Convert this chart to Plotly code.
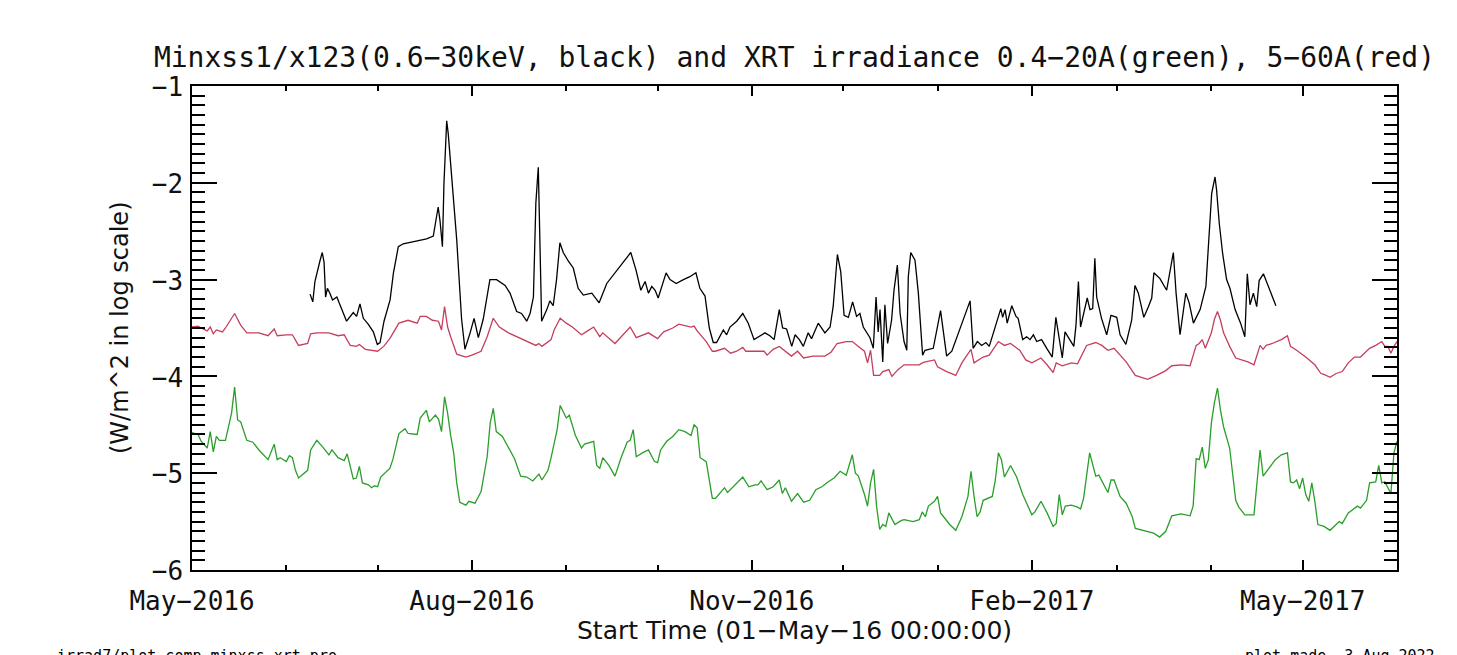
import pandas as pd
import plotly.graph_objects as go

START = "2016-05-01"

# ---- data: day offsets from 01-May-2016 and log10 irradiance (W/m^2) ----
green_days = [0, 2, 3, 5, 6, 7, 8, 9, 11, 12, 13, 14, 15, 16, 18, 20, 22, 25, 27, 28, 29, 31, 32, 33, 34, 35, 38, 39, 41, 43, 45, 46, 48, 50, 51, 52, 53, 54, 55, 56, 58, 59, 60, 61, 62, 65, 66, 68, 70, 71, 74, 75, 77, 78, 80, 81, 82, 83, 84, 85, 86, 87, 88, 90, 91, 93, 95, 97, 98, 99, 100, 102, 104, 106, 108, 110, 112, 114, 115, 117, 118, 120, 121, 123, 124, 126, 128, 129, 132, 133, 134, 135, 137, 139, 141, 143, 144, 145, 146, 148, 150, 152, 153, 154, 156, 158, 160, 162, 164, 165, 166, 167, 169, 170, 171, 172, 175, 176, 178, 181, 183, 185, 186, 187, 189, 191, 193, 194, 195, 197, 199, 201, 203, 205, 207, 209, 211, 213, 215, 217, 218, 219, 221, 222, 223, 224, 225, 226, 227, 228, 229, 231, 233, 234, 237, 239, 240, 241, 242, 244, 245, 246, 247, 249, 251, 253, 255, 256, 257, 258, 259, 260, 263, 264, 265, 266, 267, 269, 271, 273, 276, 277, 279, 281, 283, 284, 285, 286, 287, 289, 291, 292, 293, 294, 295, 297, 298, 301, 302, 303, 305, 307, 309, 310, 314, 316, 318, 320, 322, 325, 328, 329, 330, 331, 332, 333, 334, 335, 336, 337, 338, 339, 341, 343, 344, 346, 349, 350, 351, 352, 354, 356, 358, 360, 361, 362, 363, 364, 365, 366, 367, 368, 369, 370, 372, 374, 376, 377, 378, 380, 383, 384, 386, 387, 389, 390, 391, 392, 394, 395, 396]
green_vals = [-4.58, -4.60, -4.67, -4.74, -4.57, -4.78, -4.62, -4.66, -4.66, -4.52, -4.38, -4.11, -4.45, -4.47, -4.66, -4.68, -4.76, -4.86, -4.70, -4.86, -4.84, -4.88, -4.82, -4.84, -4.97, -5.05, -4.97, -4.76, -4.66, -4.73, -4.81, -4.76, -4.84, -4.87, -4.80, -4.93, -5.06, -5.05, -4.93, -5.10, -5.12, -5.15, -5.13, -5.14, -5.04, -4.95, -4.86, -4.59, -4.54, -4.59, -4.60, -4.43, -4.35, -4.47, -4.40, -4.44, -4.57, -4.21, -4.38, -4.61, -4.79, -5.10, -5.30, -5.33, -5.29, -5.31, -5.19, -4.83, -4.48, -4.33, -4.57, -4.62, -4.73, -4.85, -5.03, -5.04, -5.08, -5.01, -5.07, -4.97, -4.84, -4.55, -4.30, -4.43, -4.40, -4.61, -4.74, -4.70, -4.67, -4.92, -4.95, -4.84, -4.92, -5.03, -4.84, -4.68, -4.66, -4.55, -4.83, -4.79, -4.76, -4.88, -4.89, -4.76, -4.67, -4.62, -4.55, -4.57, -4.61, -4.50, -4.53, -4.84, -4.88, -5.07, -5.26, -5.26, -5.15, -5.20, -5.14, -5.04, -5.14, -5.12, -5.12, -5.08, -5.17, -5.14, -5.07, -5.21, -5.15, -5.29, -5.21, -5.30, -5.28, -5.17, -5.14, -5.09, -5.05, -4.98, -5.02, -4.81, -5.00, -5.03, -5.22, -5.34, -5.10, -4.96, -5.35, -5.58, -5.53, -5.55, -5.41, -5.53, -5.49, -5.48, -5.50, -5.48, -5.40, -5.45, -5.34, -5.29, -5.24, -5.41, -5.45, -5.53, -5.59, -5.45, -5.24, -4.98, -5.24, -5.45, -5.40, -5.28, -5.24, -5.07, -4.79, -4.86, -5.04, -4.92, -5.04, -5.22, -5.43, -5.40, -5.29, -5.41, -5.55, -5.52, -5.22, -5.43, -5.34, -5.33, -5.35, -5.37, -5.26, -5.00, -4.79, -5.03, -5.02, -5.20, -5.07, -5.07, -5.24, -5.31, -5.45, -5.57, -5.60, -5.62, -5.66, -5.60, -5.44, -5.42, -5.44, -5.34, -4.85, -4.86, -4.73, -4.95, -4.86, -4.48, -4.27, -4.12, -4.35, -4.52, -4.74, -5.28, -5.35, -5.43, -5.43, -5.07, -4.76, -5.03, -4.95, -4.86, -4.81, -4.79, -5.09, -5.10, -5.07, -5.16, -5.05, -5.22, -5.29, -5.10, -5.29, -5.53, -5.55, -5.59, -5.53, -5.50, -5.52, -5.41, -5.34, -5.36, -5.28, -5.10, -5.09, -4.92, -5.10, -5.09, -5.21, -4.79, -4.67]

red_days = [0, 2, 3, 5, 6, 7, 8, 10, 11, 14, 16, 18, 22, 25, 27, 28, 31, 33, 35, 38, 39, 41, 45, 48, 50, 52, 54, 55, 57, 59, 61, 63, 65, 68, 71, 74, 75, 77, 79, 81, 82, 83, 84, 85, 87, 90, 92, 95, 97, 99, 101, 104, 108, 111, 113, 114, 115, 118, 119, 121, 123, 125, 128, 130, 132, 134, 135, 139, 141, 144, 146, 150, 153, 155, 158, 160, 164, 165, 166, 169, 171, 172, 175, 177, 179, 181, 182, 188, 189, 191, 193, 195, 197, 199, 201, 204, 208, 210, 212, 215, 217, 219, 221, 222, 223, 224, 226, 227, 229, 230, 232, 234, 236, 239, 240, 241, 244, 245, 248, 251, 253, 256, 257, 260, 262, 264, 265, 267, 269, 272, 274, 276, 279, 281, 283, 284, 286, 289, 291, 294, 297, 299, 301, 303, 305, 307, 310, 314, 317, 320, 322, 325, 328, 330, 331, 332, 333, 335, 336, 337, 338, 339, 341, 343, 347, 349, 351, 352, 353, 355, 358, 360, 361, 363, 366, 368, 369, 371, 372, 374, 376, 378, 380, 382, 384, 387, 389, 391, 392, 393, 394, 395, 396]
red_vals = [-3.49, -3.48, -3.50, -3.53, -3.49, -3.56, -3.52, -3.54, -3.50, -3.35, -3.47, -3.55, -3.55, -3.58, -3.51, -3.58, -3.57, -3.57, -3.68, -3.66, -3.56, -3.55, -3.55, -3.58, -3.57, -3.68, -3.69, -3.67, -3.72, -3.73, -3.74, -3.69, -3.61, -3.45, -3.42, -3.45, -3.38, -3.38, -3.42, -3.43, -3.52, -3.28, -3.49, -3.59, -3.77, -3.80, -3.78, -3.74, -3.59, -3.40, -3.49, -3.55, -3.61, -3.65, -3.68, -3.66, -3.69, -3.62, -3.52, -3.40, -3.45, -3.49, -3.57, -3.53, -3.49, -3.59, -3.55, -3.66, -3.59, -3.49, -3.60, -3.55, -3.61, -3.54, -3.50, -3.46, -3.49, -3.48, -3.53, -3.64, -3.74, -3.74, -3.71, -3.76, -3.74, -3.70, -3.74, -3.74, -3.78, -3.72, -3.69, -3.74, -3.79, -3.74, -3.81, -3.79, -3.79, -3.75, -3.66, -3.64, -3.64, -3.69, -3.74, -3.86, -3.73, -3.99, -3.99, -3.95, -3.93, -4.00, -3.93, -3.88, -3.88, -3.88, -3.86, -3.85, -3.83, -3.90, -3.95, -3.99, -3.86, -3.72, -3.86, -3.80, -3.78, -3.69, -3.64, -3.68, -3.66, -3.73, -3.83, -3.86, -3.81, -3.88, -3.96, -3.86, -3.89, -3.86, -3.87, -3.68, -3.65, -3.68, -3.73, -3.71, -3.78, -3.85, -3.99, -4.03, -3.99, -3.94, -3.89, -3.88, -3.89, -3.68, -3.66, -3.62, -3.71, -3.55, -3.41, -3.33, -3.42, -3.55, -3.69, -3.81, -3.85, -3.88, -3.68, -3.72, -3.68, -3.66, -3.62, -3.58, -3.69, -3.73, -3.80, -3.85, -3.88, -3.97, -3.98, -4.01, -3.97, -3.95, -3.86, -3.80, -3.80, -3.71, -3.68, -3.64, -3.69, -3.69, -3.76, -3.69, -3.64]

black_days = [38.8, 39.7, 40.4, 41.0, 42.1, 42.8, 43.4, 43.9, 44.5, 45.3, 46.2, 47.6, 49.2, 50.8, 53.0, 54.1, 55.2, 56.3, 57.9, 59.6, 60.9, 61.8, 63.1, 65.1, 66.2, 67.8, 69.4, 72.7, 77.1, 79.3, 80.9, 81.5, 82.3, 82.8, 83.7, 84.2, 85.3, 87.0, 88.6, 89.7, 91.4, 92.7, 94.1, 95.7, 97.9, 100.1, 102.9, 104.5, 106.7, 108.3, 110.0, 111.1, 112.2, 113.0, 113.8, 114.1, 114.9, 116.6, 117.6, 118.7, 119.8, 120.9, 122.0, 123.7, 125.3, 126.9, 128.6, 131.4, 133.0, 133.8, 136.3, 140.1, 144.2, 145.9, 147.5, 148.9, 150.0, 151.1, 152.2, 153.2, 155.8, 157.1, 159.1, 161.5, 163.6, 165.6, 166.9, 168.6, 170.0, 171.3, 172.4, 174.6, 175.7, 176.8, 179.0, 181.0, 182.8, 184.7, 186.7, 188.3, 189.9, 191.3, 193.0, 194.1, 195.4, 197.1, 198.2, 199.6, 200.9, 202.5, 203.6, 205.8, 208.0, 209.7, 210.7, 212.1, 213.2, 214.3, 215.7, 217.1, 218.4, 219.5, 220.6, 222.8, 223.9, 224.8, 225.5, 226.1, 227.0, 227.7, 228.6, 229.9, 230.7, 231.8, 232.7, 234.0, 234.9, 235.4, 236.2, 237.6, 238.7, 240.1, 240.9, 243.6, 246.0, 246.9, 248.0, 249.7, 255.7, 256.7, 258.1, 259.5, 260.9, 262.0, 263.6, 265.8, 266.4, 267.2, 267.9, 269.4, 270.8, 271.5, 273.0, 274.3, 275.4, 276.5, 277.6, 279.2, 280.9, 282.7, 283.9, 284.7, 285.2, 286.0, 286.9, 288.5, 289.8, 290.5, 291.3, 292.0, 293.5, 294.2, 295.1, 296.0, 296.7, 297.3, 298.9, 300.6, 302.0, 303.9, 305.0, 306.9, 308.8, 309.9, 311.0, 312.8, 314.3, 315.4, 316.1, 318.1, 320.3, 321.4, 322.5, 323.4, 324.7, 326.6, 327.7, 329.1, 331.3, 333.2, 334.3, 335.1, 336.2, 336.7, 337.6, 338.7, 340.0, 341.1, 342.8, 344.6, 346.0, 346.8, 347.7, 348.8, 349.9, 350.7, 352.1, 354.3, 356.2]
black_vals = [-3.15, -3.23, -3.02, -2.93, -2.80, -2.72, -2.82, -3.18, -3.09, -3.14, -3.21, -3.18, -3.31, -3.43, -3.34, -3.38, -3.25, -3.40, -3.46, -3.54, -3.67, -3.65, -3.43, -3.21, -2.93, -2.66, -2.63, -2.61, -2.58, -2.55, -2.25, -2.39, -2.66, -2.01, -1.36, -1.49, -1.90, -2.59, -3.41, -3.72, -3.55, -3.40, -3.60, -3.41, -3.00, -3.00, -3.06, -3.14, -3.33, -3.35, -3.43, -3.35, -3.18, -2.21, -1.84, -2.25, -3.43, -3.31, -3.22, -3.27, -3.00, -2.62, -2.72, -2.81, -2.88, -3.09, -3.16, -3.14, -3.21, -3.24, -3.04, -2.88, -2.72, -2.90, -3.11, -3.02, -3.14, -3.07, -3.11, -3.19, -2.93, -3.00, -3.04, -3.00, -2.97, -2.93, -3.09, -3.17, -3.50, -3.65, -3.65, -3.52, -3.57, -3.49, -3.43, -3.35, -3.45, -3.62, -3.58, -3.55, -3.58, -3.62, -3.31, -3.50, -3.51, -3.69, -3.57, -3.62, -3.69, -3.55, -3.61, -3.45, -3.55, -3.49, -3.28, -2.74, -2.92, -3.37, -3.39, -3.23, -3.38, -3.35, -3.49, -3.60, -3.71, -3.18, -3.54, -3.31, -3.85, -3.26, -3.66, -3.42, -3.11, -2.85, -3.35, -3.64, -3.73, -2.97, -2.72, -2.80, -3.14, -3.78, -3.73, -3.71, -3.32, -3.52, -3.79, -3.74, -3.22, -3.71, -3.64, -3.68, -3.65, -3.69, -3.52, -3.30, -3.39, -3.31, -3.45, -3.27, -3.38, -3.40, -3.62, -3.59, -3.62, -3.57, -3.64, -3.62, -3.71, -3.80, -3.39, -3.55, -3.69, -3.81, -3.54, -3.62, -3.69, -3.47, -3.02, -3.49, -3.28, -3.19, -3.31, -3.30, -2.78, -3.18, -3.40, -3.57, -3.37, -3.39, -3.57, -3.67, -3.42, -3.06, -3.14, -3.39, -3.28, -3.19, -2.93, -2.99, -3.11, -2.93, -2.72, -3.14, -3.57, -3.14, -3.24, -3.45, -3.31, -3.07, -2.45, -2.11, -1.94, -2.07, -2.42, -2.73, -3.00, -3.09, -3.31, -3.45, -3.59, -2.94, -3.26, -3.14, -3.28, -3.01, -2.94, -3.11, -3.27]

x_tick_dates = ["2016-05-01", "2016-08-01", "2016-11-01", "2017-02-01", "2017-05-01"]
x_tick_labels = ["May\u22122016", "Aug\u22122016", "Nov\u22122016", "Feb\u22122017", "May\u22122017"]
y_tick_vals = [-6, -5, -4, -3, -2, -1]
y_tick_labels = ["\u22126", "\u22125", "\u22124", "\u22123", "\u22122", "\u22121"]

TITLE = ("Minxss1/x123(0.6\u221230keV, black) and XRT irradiance "
         "0.4\u221220A(green), 5\u221260A(red)")
X_TITLE = "Start Time (01\u2212May\u221216 00:00:00)"
Y_TITLE = "(W/m^2 in log scale)"
LEFT_NOTE = "irrad7/plot_comp_minxss_xrt.pro"
RIGHT_NOTE = "plot made  3-Aug-2022"


def to_dates(days):
    return pd.Timestamp(START) + pd.to_timedelta(days, unit="D")


MONO = "DejaVu Sans Mono"
SANS = "DejaVu Sans"

# page is drawn with an 8px body margin, so the figure geometry is offset by 8px
W, H = 1457, 655
L, R, T, B = 184, 68, 78, 93
PW = W - L - R      # plot width
PH = H - T - B      # plot height
X0, X1, Y1 = L, W - R, H - B

fig = go.Figure()
fig.add_trace(go.Scatter(x=to_dates(green_days), y=green_vals, mode="lines",
                         line=dict(color="#2a9e2a", width=1.3), showlegend=False))
fig.add_trace(go.Scatter(x=to_dates(red_days), y=red_vals, mode="lines",
                         line=dict(color="#c63e5c", width=1.3), showlegend=False))
fig.add_trace(go.Scatter(x=to_dates(black_days), y=black_vals, mode="lines",
                         line=dict(color="#000000", width=1.3), showlegend=False))

fig.update_layout(
    width=W, height=H,
    margin=dict(l=L, r=R, t=T, b=B, autoexpand=False),
    paper_bgcolor="white", plot_bgcolor="white",
    title=dict(text=TITLE, x=0.5, xref="paper", y=1 - 49 / H, yref="container",
               xanchor="center", yanchor="middle",
               font=dict(family=MONO, size=28, color="#111111")),
    font=dict(family=MONO, color="black"),
)

fig.update_xaxes(
    type="date", range=["2016-05-01", "2017-06-01"],
    tickmode="array", tickvals=x_tick_dates, ticktext=x_tick_labels,
    ticks="inside", ticklen=10, tickwidth=1.5, tickcolor="black",
    showline=True, linecolor="black", linewidth=1.5, mirror="ticks",
    showgrid=False, zeroline=False,
    tickfont=dict(family=MONO, size=26, color="#111111"),
    ticklabelstandoff=7,
    minor=dict(dtick="M1", tick0="2016-05-01", ticks="inside", ticklen=5,
               tickwidth=1.5, tickcolor="black", showgrid=False),
)
fig.update_yaxes(
    range=[-6, -1],
    tickmode="array", tickvals=y_tick_vals, ticktext=y_tick_labels,
    ticks="inside", ticklen=25, tickwidth=1.5, tickcolor="black",
    showline=True, linecolor="black", linewidth=1.5, mirror="ticks",
    showgrid=False, zeroline=False,
    tickfont=dict(family=MONO, size=26, color="#111111"),
    ticklabelstandoff=2, ticklabelshift=1,
    minor=dict(dtick=0.1, tick0=-6, ticks="inside", ticklen=13,
               tickwidth=1.5, tickcolor="black", showgrid=False),
)

fig.add_annotation(text=X_TITLE, xref="paper", yref="paper", x=0.5,
                   y=-(622 - Y1) / PH, xanchor="center", yanchor="middle",
                   showarrow=False, font=dict(family=SANS, size=25, color="#111111"))
fig.add_annotation(text=Y_TITLE, xref="paper", yref="paper", x=-(X0 - 112) / PW,
                   y=0.5, xanchor="center", yanchor="middle", textangle=-90,
                   showarrow=False, font=dict(family=SANS, size=24, color="#111111"))
fig.add_annotation(text=LEFT_NOTE, xref="paper", yref="paper", x=-(X0 - 47) / PW,
                   y=-(637 - Y1) / PH, xanchor="left", yanchor="top",
                   showarrow=False, font=dict(family=MONO, size=15, color="black"))
fig.add_annotation(text=RIGHT_NOTE, xref="paper", yref="paper", x=1 + (1429 - X1) / PW,
                   y=-(637 - Y1) / PH, xanchor="right", yanchor="top",
                   showarrow=False, font=dict(family=MONO, size=15, color="black"))

fig.write_html("out.html")
